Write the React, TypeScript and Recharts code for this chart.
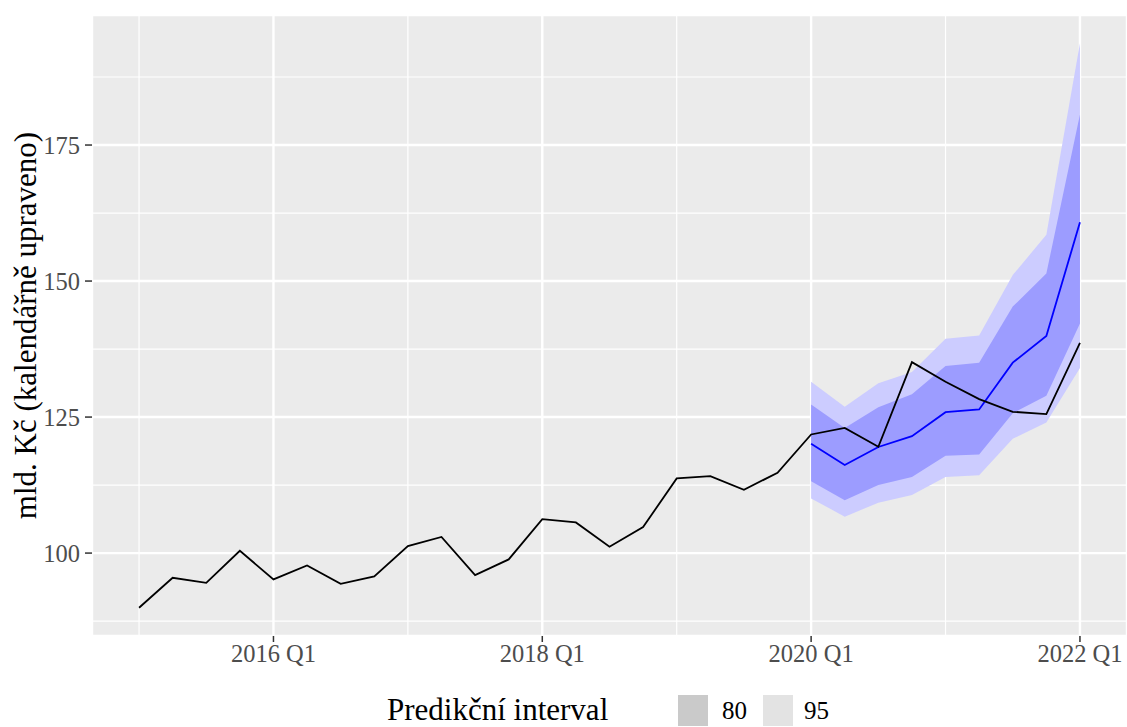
import {
  ComposedChart,
  Area,
  Line,
  XAxis,
  YAxis,
  CartesianGrid,
  Legend,
} from "recharts";

// quarters on the x axis
const quarters = [
  "2015 Q1", "2015 Q2", "2015 Q3", "2015 Q4",
  "2016 Q1", "2016 Q2", "2016 Q3", "2016 Q4",
  "2017 Q1", "2017 Q2", "2017 Q3", "2017 Q4",
  "2018 Q1", "2018 Q2", "2018 Q3", "2018 Q4",
  "2019 Q1", "2019 Q2", "2019 Q3", "2019 Q4",
  "2020 Q1", "2020 Q2", "2020 Q3", "2020 Q4",
  "2021 Q1", "2021 Q2", "2021 Q3", "2021 Q4",
  "2022 Q1",
];

// observed values (black line)
const actual = [
  89.95, 95.46, 94.54, 100.42, 95.16, 97.73, 94.36, 95.7,
  101.29, 102.97, 95.96, 98.84, 106.25, 105.64, 101.16, 104.78,
  113.73, 114.15, 111.64, 114.76, 121.8, 123.0, 119.54, 135.1,
  131.5, 128.3, 125.97, 125.55, 138.65,
];

// forecast from 2020 Q1
const forecastStart = "2020 Q1";
const fcMean = [120.1, 116.2, 119.5, 121.5, 125.9, 126.4, 135.0, 139.9, 160.8];
const lo80 = [113.2, 109.7, 112.5, 114.0, 117.9, 118.1, 125.7, 128.9, 142.2];
const hi80 = [127.3, 123.0, 126.8, 129.2, 134.4, 135.0, 145.3, 151.4, 180.6];
const lo95 = [110.05, 106.7, 109.25, 110.66, 114.0, 114.3, 121.0, 124.0, 134.0];
const hi95 = [131.5, 126.9, 131.2, 133.3, 139.4, 140.0, 151.1, 158.5, 193.7];

const xTickQuarters = ["2016 Q1", "2018 Q1", "2020 Q1", "2022 Q1"];
const xMinorQuarters = ["2015 Q1", "2017 Q1", "2019 Q1", "2021 Q1"];
const yTicks = [100, 125, 150, 175];
const yMinor = [87.5, 112.5, 137.5, 162.5, 187.5];

const legendTitle = "Predikční interval";
const legendItems = [
  { label: "80", fill: "#CACACA" },
  { label: "95", fill: "#E3E3E3" },
];

const fcOffset = quarters.indexOf(forecastStart);
const data = quarters.map((q, i) => {
  const j = i - fcOffset;
  const has = j >= 0 && j < fcMean.length;
  return {
    t: i,
    quarter: q,
    actual: actual[i],
    mean: has ? fcMean[j] : null,
    band80: has ? [lo80[j], hi80[j]] : null,
    band95: has ? [lo95[j], hi95[j]] : null,
  };
});

const font = "'Liberation Serif', 'Times New Roman', serif";

const LegendBox = () => (
  <div
    style={{
      position: "relative",
      width: 1127,
      height: 40,
      fontFamily: font,
      color: "#000",
    }}
  >
    <span
      style={{ position: "absolute", left: 387, top: 0, fontSize: 31, lineHeight: "40px" }}
    >
      {legendTitle}
    </span>
    {legendItems.map((item, i) => (
      <div key={item.label}>
        <div
          style={{
            position: "absolute",
            left: 678 + i * 85,
            top: 5,
            width: 30,
            height: 31,
            background: item.fill,
          }}
        />
        <span
          style={{
            position: "absolute",
            left: 722 + i * 82,
            top: 0,
            fontSize: 25,
            lineHeight: "42px",
          }}
        >
          {item.label}
        </span>
      </div>
    ))}
  </div>
);

export default function App() {
  return (
    <div>
      <style>{"body{margin:0}"}</style>
      <ComposedChart
        width={1127}
        height={727}
        data={data}
        margin={{ top: 15, right: 0, bottom: 51, left: 0 }}
        style={{ fontFamily: font }}
      >
        <CartesianGrid
          fill="#EBEBEB"
          fillOpacity={1}
          stroke="#FFFFFF"
          strokeWidth={2.4}
        />
        <CartesianGrid
          stroke="#FFFFFF"
          strokeWidth={1.2}
          horizontalValues={yMinor}
          verticalValues={xMinorQuarters.map((q) => quarters.indexOf(q))}
        />
        <XAxis
          dataKey="t"
          type="number"
          domain={[-1.4, 29.4]}
          allowDataOverflow
          ticks={xTickQuarters.map((q) => quarters.indexOf(q))}
          tickFormatter={(v) => quarters[v]}
          height={40}
          axisLine={false}
          tickLine={{ stroke: "#333333", strokeWidth: 1.5 }}
          tickSize={6}
          tickMargin={3}
          tick={{ fill: "#4D4D4D", fontSize: 24.5 }}
        />
        <YAxis
          type="number"
          domain={[84.76, 198.9]}
          allowDataOverflow
          ticks={yTicks}
          width={92}
          axisLine={false}
          tickLine={{ stroke: "#333333", strokeWidth: 1.5 }}
          tickSize={7}
          tickMargin={5}
          tick={{ fill: "#4D4D4D", fontSize: 24.5 }}
          label={{
            value: "mld. Kč (kalendářně upraveno)",
            angle: -90,
            position: "insideLeft",
            offset: 25,
            style: { textAnchor: "middle", fontSize: 31, fill: "#000" },
          }}
        />
        <Area
          dataKey="band95"
          fill="#CCCCFF"
          fillOpacity={1}
          stroke="none"
          isAnimationActive={false}
          activeDot={false}
          legendType="none"
        />
        <Area
          dataKey="band80"
          fill="#9C9CFF"
          fillOpacity={1}
          stroke="none"
          isAnimationActive={false}
          activeDot={false}
          legendType="none"
        />
        <Line
          dataKey="mean"
          stroke="#0000FF"
          strokeWidth={1.8}
          dot={false}
          activeDot={false}
          isAnimationActive={false}
          legendType="none"
        />
        <Line
          dataKey="actual"
          stroke="#000000"
          strokeWidth={1.8}
          dot={false}
          activeDot={false}
          isAnimationActive={false}
          legendType="none"
        />
        <Legend
          layout="horizontal"
          align="center"
          verticalAlign="middle"
          wrapperStyle={{ top: 690, left: 0, width: 1127, height: 40 }}
          content={() => <LegendBox />}
        />
      </ComposedChart>
    </div>
  );
}
